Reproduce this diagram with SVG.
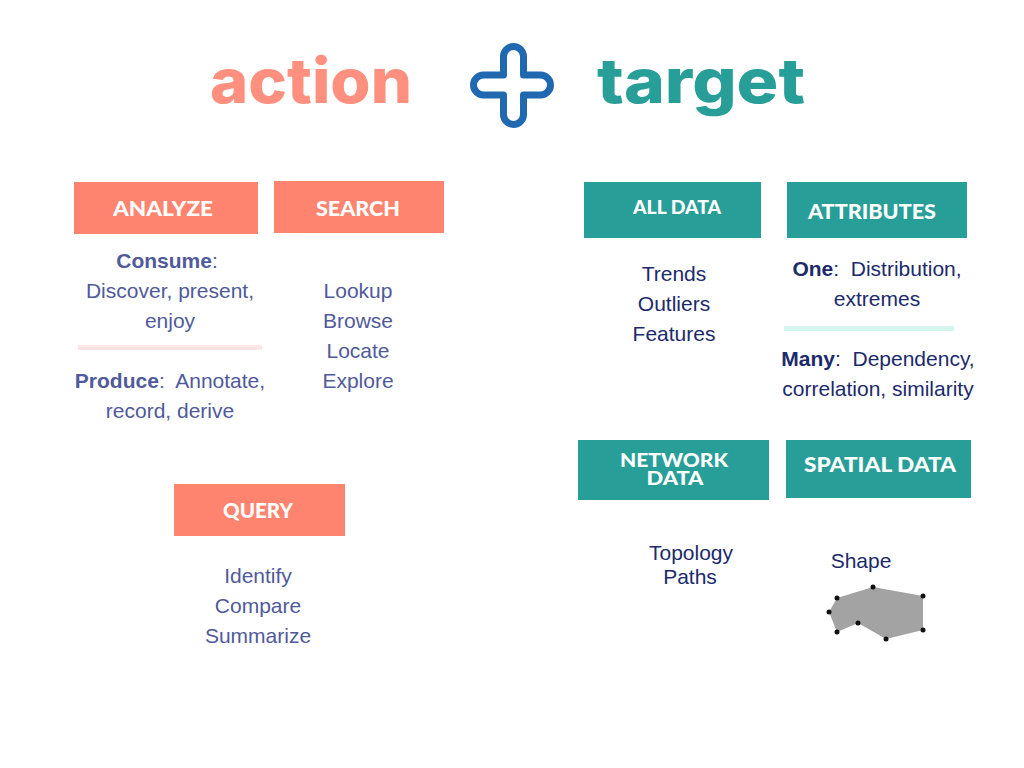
<svg xmlns="http://www.w3.org/2000/svg" width="1024" height="768" viewBox="0 0 1024 768">
<style>
.bgA{fill:#FF846F}
.bgT{fill:#279E98}
.hd{font-family:Lato,"Open Sans","DejaVu Sans",sans-serif;font-weight:900;fill:#ffffff;text-anchor:middle}
.ta{font-family:"Liberation Sans",Arial,sans-serif;font-size:21px;fill:#505A9A;text-anchor:middle}
.tt{font-family:"Liberation Sans",Arial,sans-serif;font-size:21px;fill:#1C2A6B;text-anchor:middle}
.b{font-weight:bold}
.title{font-family:Inter,Lato,"DejaVu Sans",sans-serif;font-weight:800;font-size:62px}
</style>
<rect width="1024" height="768" fill="#ffffff"/>
<g id="title">
  <text class="title" x="210" y="103" fill="#FF8F7E" textLength="202" lengthAdjust="spacingAndGlyphs">action</text>
  <path d="M503.5,75 L503.5,56.5 A10,10 0 0 1 523.5,56.5 L523.5,75 L540.5,75 A10,10 0 0 1 540.5,95 L523.5,95 L523.5,114.5 A10,10 0 0 1 503.5,114.5 L503.5,95 L483.5,95 A10,10 0 0 1 483.5,75 Z" fill="none" stroke="#2068B0" stroke-width="7" stroke-linejoin="round"/>
  <text class="title" x="597" y="103" fill="#289E98" textLength="208" lengthAdjust="spacingAndGlyphs">target</text>
</g>
<g id="analyze">
  <rect class="bgA" x="74" y="182" width="184" height="52"/>
  <text class="hd" x="163" y="216" font-size="21" textLength="100" lengthAdjust="spacingAndGlyphs">ANALYZE</text>
  <text class="ta" x="167" y="268"><tspan class="b">Consume</tspan>:</text>
  <text class="ta" x="170" y="298">Discover, present,</text>
  <text class="ta" x="170" y="328">enjoy</text>
  <rect x="78" y="345" width="184" height="5" fill="#FDE6E4"/>
  <text class="ta" x="170" y="388" xml:space="preserve"><tspan class="b">Produce</tspan>:  Annotate,</text>
  <text class="ta" x="170" y="418">record, derive</text>
</g>
<g id="search">
  <rect class="bgA" x="274" y="181" width="170" height="52"/>
  <text class="hd" x="358" y="216" font-size="21" textLength="84" lengthAdjust="spacingAndGlyphs">SEARCH</text>
  <text class="ta" x="358" y="298">Lookup</text>
  <text class="ta" x="358" y="328">Browse</text>
  <text class="ta" x="358" y="358">Locate</text>
  <text class="ta" x="358" y="388">Explore</text>
</g>
<g id="query">
  <rect class="bgA" x="174" y="484" width="171" height="52"/>
  <text class="hd" x="258" y="518" font-size="21" textLength="70" lengthAdjust="spacingAndGlyphs">QUERY</text>
  <text class="ta" x="258" y="583">Identify</text>
  <text class="ta" x="258" y="613">Compare</text>
  <text class="ta" x="258" y="643">Summarize</text>
</g>
<g id="alldata">
  <rect class="bgT" x="584" y="182" width="177" height="56"/>
  <text class="hd" x="677" y="214" font-size="18" textLength="88" lengthAdjust="spacingAndGlyphs">ALL DATA</text>
  <text class="tt" x="674" y="281">Trends</text>
  <text class="tt" x="674" y="311">Outliers</text>
  <text class="tt" x="674" y="341">Features</text>
</g>
<g id="attributes">
  <rect class="bgT" x="787" y="182" width="180" height="56"/>
  <text class="hd" x="872" y="219" font-size="20" textLength="128" lengthAdjust="spacingAndGlyphs">ATTRIBUTES</text>
  <text class="tt" x="877" y="276" xml:space="preserve"><tspan class="b">One</tspan>:  Distribution,</text>
  <text class="tt" x="877" y="306">extremes</text>
  <rect x="784" y="326" width="170" height="5" fill="#D4F4EE"/>
  <text class="tt" x="878" y="366" xml:space="preserve"><tspan class="b">Many</tspan>:  Dependency,</text>
  <text class="tt" x="878" y="396">correlation, similarity</text>
</g>
<g id="networkdata">
  <rect class="bgT" x="578" y="440" width="191" height="60"/>
  <text class="hd" x="674" y="467" font-size="18" textLength="108" lengthAdjust="spacingAndGlyphs">NETWORK</text>
  <text class="hd" x="675" y="485" font-size="18" textLength="57" lengthAdjust="spacingAndGlyphs">DATA</text>
  <text class="tt" x="691" y="560">Topology</text>
  <text class="tt" x="690" y="584">Paths</text>
</g>
<g id="spatialdata">
  <rect class="bgT" x="786" y="440" width="185" height="58"/>
  <text class="hd" x="880" y="472" font-size="21" textLength="152" lengthAdjust="spacingAndGlyphs">SPATIAL DATA</text>
  <text class="tt" x="861" y="568">Shape</text>
  <polygon points="829,612 837,598 873,587 923,596 923,630 886,639 858,623 837,632" fill="#A3A3A3"/>
  <g fill="#111111">
    <circle cx="829" cy="612" r="2.5"/>
    <circle cx="837" cy="598" r="2.5"/>
    <circle cx="873" cy="587" r="2.5"/>
    <circle cx="923" cy="596" r="2.5"/>
    <circle cx="923" cy="630" r="2.5"/>
    <circle cx="886" cy="639" r="2.5"/>
    <circle cx="858" cy="623" r="2.5"/>
    <circle cx="837" cy="632" r="2.5"/>
  </g>
</g>
<g id="connectors"></g>
</svg>
